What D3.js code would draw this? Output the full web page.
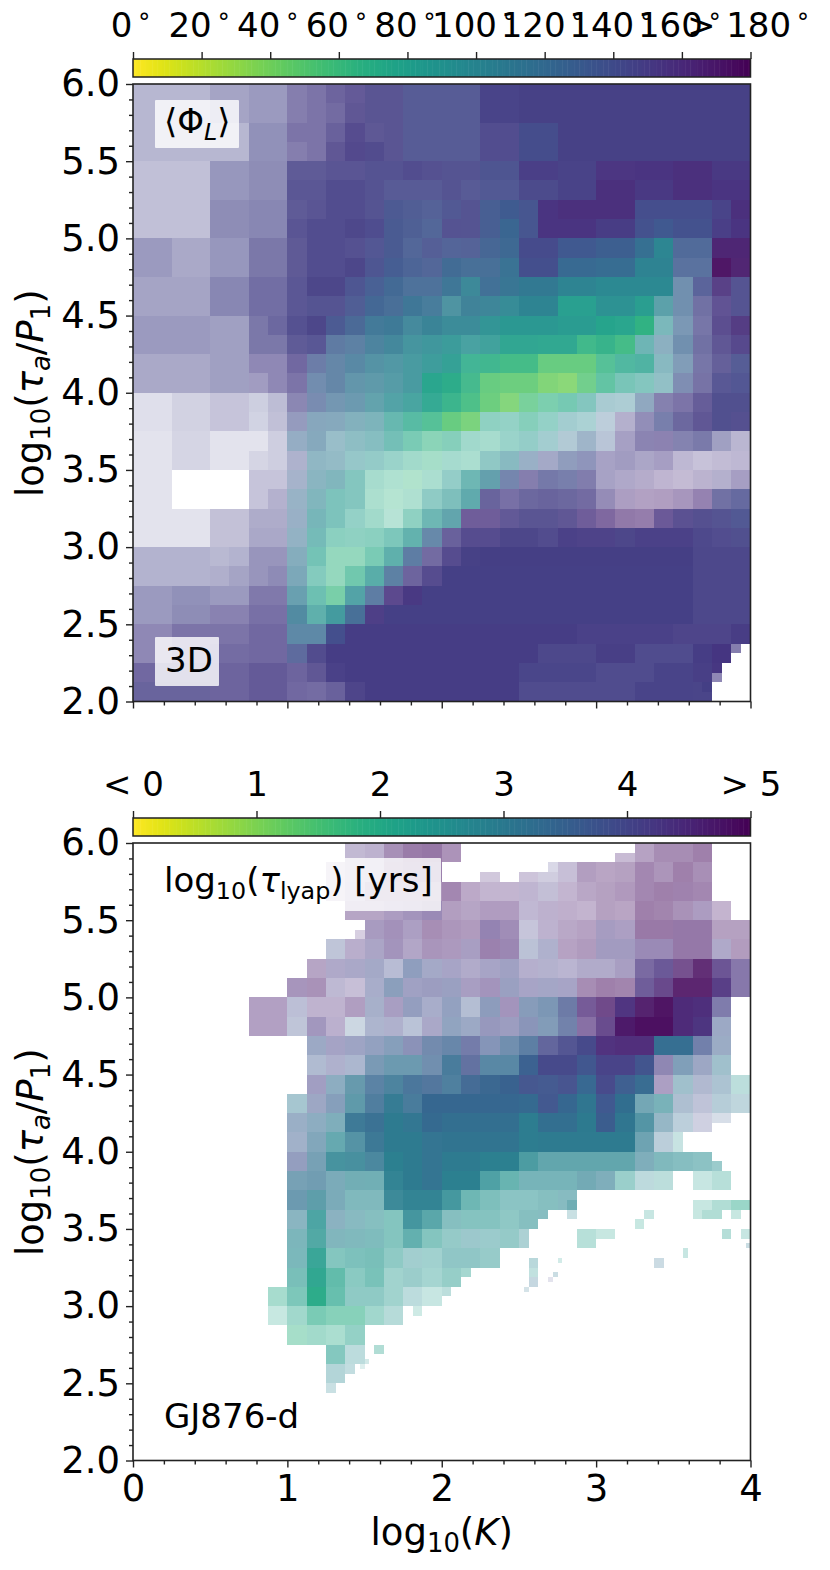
<!DOCTYPE html>
<html>
<head>
<meta charset="utf-8">
<script src="https://cdnjs.cloudflare.com/ajax/libs/d3/7.8.5/d3.min.js"></script>
<style>
  body { margin: 0; background: #fff; }
  text { font-family: "DejaVu Sans", sans-serif; fill: #000; }
</style>
</head>
<body>
<div id="chart"></div>
<script>
const _ = null;

// grid cell size in log10 units, rows run from log10(tau)=6 downwards
const cellSize = 0.125;

// top panel: mean angle in degrees
const phiValues = [
[145,145,145,145,145,145,145,145,150,150,150,150,148,148,143,143,143,143,147,147,148,148,148,148,148,148,148,148,148,148,148,148],
[145,145,145,145,145,145,145,145,150,150,150,150,148,148,143,143,143,143,147,147,148,148,148,148,148,148,148,148,148,148,148,148],
[145,145,145,145,145,145,145,145,150,150,150,150,148,148,143,143,143,143,147,147,142,142,148,148,148,148,148,148,148,148,148,148],
[145,145,145,145,145,145,145,145,150,150,150,150,148,148,143,143,143,143,147,147,142,142,148,148,148,148,148,148,148,148,148,148],
[145,145,145,145,145,145,145,145,147,147,147,147,146,146,147,147,145,145,142,142,150,150,148,148,155,155,155,155,158,158,152,152],
[145,145,145,145,145,145,145,145,147,147,147,147,146,144,144,144,145,144,142,142,145,145,148,148,158,158,152,152,158,158,155,155],
[145,145,145,145,145,145,145,145,147,147,147,147,145,139,139,139,142,145,134,132,138,155,158,158,158,158,141,141,141,141,147,158],
[145,145,145,145,145,145,145,145,147,147,147,148,146,137,137,135,146,145,134,125,138,155,155,155,150,150,139,133,139,139,150,155],
[145,145,145,145,145,145,147,147,148,147,147,147,143,137,135,140,136,138,130,125,143,143,133,133,130,130,118,100,132,132,165,165],
[145,145,145,145,145,145,147,147,148,147,147,148,141,133,133,135,125,125,125,117,140,140,122,122,120,120,103,103,132,132,175,168],
[145,145,145,145,145,145,147,147,147,148,148,141,133,126,126,126,118,105,122,115,110,110,102,102,98,98,98,98,125,140,158,145],
[145,145,145,145,145,145,147,147,147,145,145,138,128,126,118,118,105,110,107,100,102,102,82,82,93,93,83,100,125,145,152,145],
[145,145,145,145,145,145,147,147,147,148,138,130,118,115,107,107,102,102,93,88,88,88,85,85,78,78,66,95,125,145,152,158],
[145,145,145,145,145,145,147,147,147,146,130,125,115,108,100,97,92,92,88,80,80,78,78,65,68,62,92,115,125,145,150,152],
[145,145,145,145,145,145,150,150,150,135,125,118,108,104,97,92,85,72,68,62,62,50,50,50,65,75,80,102,125,145,148,142],
[145,145,145,145,145,145,150,150,150,128,125,112,108,102,97,78,72,65,50,48,48,42,40,52,68,80,85,100,135,148,145,143],
[145,145,145,145,148,148,142,145,148,132,122,115,102,95,90,78,68,60,48,42,55,65,72,85,105,105,125,148,150,150,145,145],
[145,145,145,145,148,148,142,145,140,120,118,108,100,85,75,65,50,45,75,78,72,80,95,95,120,150,148,140,148,150,145,148],
[145,145,145,145,145,145,145,145,125,118,108,100,95,85,72,65,72,75,72,80,85,95,115,125,130,150,150,152,145,145,145,150],
[145,145,145,145,145,145,145,145,142,110,108,95,88,80,72,65,75,72,90,100,125,140,135,140,150,150,150,152,152,152,152,152],
[145,145,_,_,_,_,148,148,132,108,100,85,72,68,62,72,85,90,105,135,150,143,140,148,150,152,155,158,158,155,150,152],
[145,145,_,_,_,_,148,148,120,100,85,85,70,65,70,85,90,95,148,150,148,148,148,150,152,160,165,165,162,160,145,143],
[145,145,145,145,148,148,147,147,125,95,85,80,72,70,75,90,100,155,155,150,148,148,150,155,160,165,165,155,150,148,145,142],
[145,145,145,145,148,148,147,147,118,90,75,75,75,80,90,125,150,150,150,148,148,148,150,150,150,148,150,150,150,147,147,145],
[145,145,145,145,145,145,147,147,112,80,65,65,72,90,128,150,150,148,148,148,148,148,148,148,148,148,148,148,148,147,147,147],
[145,145,145,145,145,145,147,147,112,78,65,70,90,125,150,150,147,147,147,147,147,147,147,147,147,147,147,147,147,147,147,147],
[145,145,145,145,145,145,150,150,108,80,62,95,128,155,152,147,147,147,147,147,147,147,147,147,147,147,147,147,147,147,147,147],
[145,145,145,145,150,150,150,150,112,90,95,125,152,147,147,147,147,147,147,147,147,147,147,147,147,147,147,147,147,147,147,147],
[150,150,150,150,150,150,150,150,120,120,140,149,149,149,149,149,149,149,149,149,149,149,149,149,149,149,149,149,149,149,149,150],
[150,150,150,150,150,150,150,150,138,148,149,149,149,149,149,149,149,149,149,149,149,147,147,147,149,149,147,147,147,149,152,_],
[150,150,150,150,150,150,150,150,150,150,149,149,149,149,149,149,149,149,149,149,147,147,147,147,147,147,147,147,147,149,_,_],
[148,148,148,148,150,150,150,150,150,150,150,149,149,149,149,149,149,149,149,149,147,147,147,147,147,147,147,147,147,148,_,_]
];

// top panel: opacity of each cell in percent
const phiOpacity = [
[38,38,38,38,48,48,53,53,65,70,78,83,88,88,88,88,88,88,97,97,98,98,98,98,98,98,98,98,98,98,98,98],
[38,38,38,38,48,48,53,53,65,70,75,85,88,88,88,88,88,88,97,97,98,98,98,98,98,98,98,98,98,98,98,98],
[38,38,38,38,38,38,58,58,70,70,80,90,86,88,88,88,88,88,92,92,97,97,98,98,98,98,98,98,98,98,98,98],
[38,38,38,38,38,38,58,58,65,70,85,92,92,88,88,88,88,88,92,92,97,97,98,98,98,98,98,98,98,98,98,98],
[33,33,33,33,55,55,60,60,85,85,88,88,90,90,92,90,90,90,92,92,97,97,97,97,97,97,98,98,98,98,98,98],
[33,33,33,33,55,55,60,60,87,87,92,92,90,88,88,88,90,88,90,90,95,95,97,97,98,98,98,98,98,98,98,98],
[33,33,33,33,60,60,63,63,85,88,92,92,90,92,90,88,90,90,93,97,95,98,98,98,98,98,97,97,97,97,97,98],
[33,33,33,33,60,60,63,63,88,92,92,94,93,93,90,88,90,90,93,97,95,98,98,98,98,98,97,97,97,97,97,98],
[53,53,45,45,55,55,70,70,85,92,92,90,90,93,88,88,88,88,92,95,97,97,97,97,97,97,97,97,88,88,97,97],
[53,53,45,45,55,55,70,70,85,92,92,95,92,94,90,88,93,90,90,95,97,97,97,97,97,97,97,97,83,83,95,95],
[48,48,48,48,63,63,75,75,87,95,95,92,92,93,88,88,92,90,92,95,97,97,97,97,97,97,97,97,70,85,90,90],
[48,48,48,48,63,63,75,75,87,90,90,90,93,90,92,88,82,90,90,92,97,97,95,95,95,95,95,75,70,75,85,90],
[53,53,53,53,50,50,70,78,90,95,92,90,90,92,87,92,90,90,92,95,95,95,95,95,97,95,97,60,65,72,88,92],
[53,53,53,53,50,50,70,70,85,88,80,80,85,88,85,87,88,82,85,92,92,92,92,90,92,90,65,55,70,75,85,90],
[45,45,45,45,50,50,60,60,76,75,76,80,80,80,83,87,90,85,88,90,90,85,85,85,80,78,78,55,62,72,82,88],
[45,45,45,45,50,50,50,60,70,70,76,74,75,78,83,95,95,88,85,85,85,82,80,78,72,60,55,50,65,72,88,90],
[17,17,24,24,30,30,26,35,62,68,68,70,72,78,82,90,90,88,85,80,70,62,62,55,40,38,55,65,70,82,92,92],
[17,17,24,24,30,30,24,33,55,58,58,58,60,68,75,80,85,82,50,48,55,48,42,38,32,40,58,70,78,85,92,90],
[15,15,22,22,15,15,15,26,52,58,48,52,55,62,60,55,55,42,40,45,48,42,37,47,35,48,62,62,65,70,50,37],
[15,15,22,22,15,15,22,26,42,52,50,48,48,45,42,42,40,38,50,55,50,47,57,58,47,50,45,48,35,30,33,35],
[15,15,_,_,_,_,30,30,45,55,58,55,40,37,38,38,48,65,72,70,65,72,70,67,47,43,40,35,32,37,40,48],
[15,15,_,_,_,_,30,40,50,58,58,55,38,35,37,50,58,72,80,72,78,80,78,75,57,45,42,43,48,58,75,80],
[15,15,15,15,32,32,43,43,50,62,58,48,42,33,50,65,72,78,78,84,88,88,85,78,70,60,58,80,88,90,90,90],
[15,15,15,15,32,32,45,45,52,62,52,50,52,58,70,75,80,90,90,95,95,92,96,95,95,95,96,96,96,94,92,92],
[40,40,40,40,37,40,55,55,58,62,50,50,60,72,80,75,90,98,99,99,99,99,99,99,99,99,99,99,99,95,95,95],
[40,40,40,40,42,48,55,60,62,55,50,65,75,80,78,90,99,99,99,99,99,99,99,99,99,99,99,99,99,95,95,95],
[53,53,58,58,53,53,68,68,70,65,65,78,80,88,98,99,99,99,99,99,99,99,99,99,99,99,99,99,99,95,95,95],
[53,53,60,60,63,63,72,72,82,72,85,90,95,99,99,99,99,99,99,99,99,99,99,99,99,99,99,99,99,95,95,95],
[60,60,70,70,70,70,76,76,78,78,97,99,99,99,99,99,99,99,99,99,99,99,99,97,97,97,97,97,95,95,95,98],
[60,60,70,70,74,74,76,76,83,92,99,99,99,99,99,99,99,99,99,99,99,95,95,95,98,98,93,93,93,99,100,_],
[76,76,76,76,78,78,83,83,78,85,97,99,99,99,99,99,99,99,99,99,96,96,96,96,93,93,93,97,97,98,_,_],
[80,80,80,80,78,78,83,83,76,74,80,95,99,99,99,99,99,99,99,99,93,93,93,93,93,93,97,97,97,96,_,_]
];

// smaller cells near the missing corner of the top panel: left, upper edge, width, height, value, opacity
const phiFineX = [3.875, 3.75, 3.75, 3.6875];
const phiFineY = [2.375, 2.25, 2.1875, 2.125];
const phiFineW = [0.0625, 0.0625, 0.0625, 0.0625];
const phiFineH = [0.0625, 0.0625, 0.0625, 0.0625];
const phiFineV = [150, 152, 150, 148];
const phiFineA = [65, 99, 60, 75];

// bottom panel: log10 of the Lyapunov time
const lyapValues = [
[_,_,_,_,_,_,_,_,_,_,_,4.4,4.4,4.7,4.8,4.8,4.8,_,_,_,_,_,_,_,_,_,4.7,4.8,4.8,4.85,_,_],
[_,_,_,_,_,_,_,_,_,_,4.5,4.4,4.4,4.7,4.7,4.7,_,_,_,_,_,_,4.4,4.7,4.75,4.75,4.8,4.75,4.85,4.8,_,_],
[_,_,_,_,_,_,_,_,_,_,4.5,4.5,4.7,4.7,4.7,4.7,4.8,4.7,4.6,4.6,4.4,4.2,4.6,4.7,4.75,4.75,4.8,4.85,4.8,4.8,_,_],
[_,_,_,_,_,_,_,_,_,_,_,4.6,4.6,4.5,4.4,4.4,4.7,4.6,4.65,4.65,4.3,4.45,4.65,4.65,4.75,4.75,4.85,4.85,4.7,4.5,4.7,_],
[_,_,_,_,_,_,_,_,_,_,_,_,4.4,4.5,4.4,4.75,4.7,4.7,4.4,4.5,4.1,4.4,4.65,4.7,4.3,4.4,4.85,4.85,4.7,4.7,4.75,4.75],
[_,_,_,_,_,_,_,_,_,_,3.8,4.4,4.2,4.4,4.4,4.6,4.6,4.3,4.65,4.5,3.8,4,4.7,4.7,4.2,4.2,4.4,4.4,4.7,4.7,4.2,4.75],
[_,_,_,_,_,_,_,_,_,4.6,4.2,4.1,3.9,3.9,3.7,3.9,4.1,4.2,4.1,4,4.2,4.1,4.2,4.2,4.2,4.3,4.3,4.3,4.7,4.85,4.4,4.3],
[_,_,_,_,_,_,_,_,4.55,4.7,4.2,4.4,3.9,3.6,4,4,3.9,4.3,4.4,3.9,4.1,4,4.1,4.8,4.85,4.85,4.3,4.55,4.9,4.9,4.4,4.3],
[_,_,_,_,_,_,4.6,4.6,3.9,4.5,4.5,4.6,3.8,4.3,3.8,3.9,3.7,3.7,3.7,4.4,3.6,3.5,3.8,4.5,4.7,4.4,4.8,4.9,4.5,4.45,4.1,_],
[_,_,_,_,_,_,4.6,4.6,3.8,4.3,4.4,3.5,3.8,4,3.7,4.1,3.6,3.7,4,4,3.8,3.5,3.75,4.5,4.5,4.75,4.9,4.9,4.5,4.35,3.7,_],
[_,_,_,_,_,_,_,_,_,3.7,4.1,3.9,3.7,3.5,3.9,3.6,3.5,3.9,3.7,3.5,3.5,4,4,4,4.45,4.5,4.5,3.3,3.3,3.8,3.6,_],
[_,_,_,_,_,_,_,_,_,3.7,4,3.7,3.4,3.2,3.2,3.5,3.3,3.8,3.3,3.3,3.55,4,4,3.75,4.1,4.1,3.8,4.2,3.4,3.8,3.1,_],
[_,_,_,_,_,_,_,_,_,4.1,3.3,3.1,3.4,3.2,3.4,3.5,3.3,3.5,3.45,3.5,3.8,3.75,3.85,3.4,4,3.6,3.35,4.4,3.1,3.8,3.3,2.5],
[_,_,_,_,_,_,_,_,3,3.8,3.5,3,3.35,3.05,3.3,3.4,3.4,3.4,3.4,3.4,3.35,3.75,3.4,3.1,3.7,3.25,3,2.8,3.5,3.9,3.2,3],
[_,_,_,_,_,_,_,_,3.5,3.3,3,3.2,3.3,3,3.1,3.35,3.25,3.25,3.25,3.25,2.95,3.25,3.25,3,3.6,3.1,2.95,3.2,3.3,4,_,_],
[_,_,_,_,_,_,_,_,3.6,3.25,2.75,3,3.2,3,3,3.15,3.15,3.15,3.15,3.15,2.95,3,3,3,3,3,3,3.3,_,_,_,_],
[_,_,_,_,_,_,_,_,3.8,3.2,2.85,2.9,3.1,2.9,3,3.15,3,3,2.9,2.9,2.7,2.75,2.75,2.75,2.75,2.75,3,2.7,2.65,2.6,_,_],
[_,_,_,_,_,_,_,_,3.2,3.2,3,2.8,2.75,2.9,3,3.15,2.9,2.9,2.65,2.5,2.7,2.7,2.7,2.9,3,2.4,2.7,2.5,_,2.3,2.3,_],
[_,_,_,_,_,_,_,_,3.2,2.9,3,2.7,2.7,2.9,2.9,2.9,2.7,2.5,2.5,2.55,2.55,2.6,2.75,_,_,_,_,_,_,_,_,_],
[_,_,_,_,_,_,_,_,3,2.55,3.1,2.8,2.6,2.4,2.75,2.65,2.6,2.5,2.45,2.45,2.6,_,_,_,_,_,_,_,_,_,_,_],
[_,_,_,_,_,_,_,_,2.7,2.5,2.8,2.7,2.6,2.4,2.55,2.4,2.5,2.7,2.6,2.5,_,_,_,2.2,_,_,_,_,_,_,_,_],
[_,_,_,_,_,_,_,_,2.65,2.3,2.35,2.4,2.4,2.4,2.6,2.45,2.55,2.55,2.5,_,_,_,_,_,_,_,_,_,_,_,_,_],
[_,_,_,_,_,_,_,_,2.4,2.2,2.2,2.3,2.3,2.35,2.5,2.4,2.35,_,_,_,_,_,_,_,_,_,_,_,_,_,_,_],
[_,_,_,_,_,_,_,2,2.2,2,2.15,2.4,2.4,2.4,2.6,2.3,_,_,_,_,_,_,_,_,_,_,_,_,_,_,_,_],
[_,_,_,_,_,_,_,2.1,2.1,2,1.95,1.95,2.2,2.5,_,_,_,_,_,_,_,_,_,_,_,_,_,_,_,_,_,_],
[_,_,_,_,_,_,_,_,1.8,2,2,2.2,_,_,_,_,_,_,_,_,_,_,_,_,_,_,_,_,_,_,_,_],
[_,_,_,_,_,_,_,_,_,_,2.3,2.6,_,_,_,_,_,_,_,_,_,_,_,_,_,_,_,_,_,_,_,_],
[_,_,_,_,_,_,_,_,_,_,2.7,_,_,_,_,_,_,_,_,_,_,_,_,_,_,_,_,_,_,_,_,_]
];

// bottom panel: opacity of each cell in percent
const lyapOpacity = [
[_,_,_,_,_,_,_,_,_,_,_,33,36,48,55,57,45,_,_,_,_,_,_,_,_,_,40,48,48,52,_,_],
[_,_,_,_,_,_,_,_,_,_,25,33,35,50,55,55,_,_,_,_,_,_,30,42,38,40,50,45,52,47,_,_],
[_,_,_,_,_,_,_,_,_,_,25,35,45,45,45,45,50,37,33,33,35,32,33,38,40,43,50,52,52,50,_,_],
[_,_,_,_,_,_,_,_,_,_,_,40,40,45,50,55,42,40,43,43,34,36,35,33,40,38,52,50,47,45,32,_],
[_,_,_,_,_,_,_,_,_,_,_,_,47,50,45,48,45,43,58,52,30,36,38,40,48,45,55,55,58,58,40,40],
[_,_,_,_,_,_,_,_,_,_,33,38,45,50,42,47,45,47,55,55,35,42,40,43,50,50,55,55,58,58,43,42],
[_,_,_,_,_,_,_,_,_,40,43,45,47,37,57,47,47,42,47,50,40,40,37,42,42,47,72,80,75,85,80,65],
[_,_,_,_,_,_,_,_,48,47,35,30,45,58,50,52,52,47,50,52,47,48,47,48,52,50,78,82,88,88,90,65],
[_,_,_,_,_,_,42,42,35,35,35,43,45,47,55,45,55,38,58,50,60,65,75,75,78,95,92,95,97,97,68,_],
[_,_,_,_,_,_,42,42,33,50,37,25,42,42,35,45,55,50,55,52,60,62,72,65,82,97,97,97,97,97,50,_],
[_,_,_,_,_,_,_,_,_,50,48,50,55,60,60,70,75,72,62,70,80,82,90,97,95,95,95,97,97,72,50,_],
[_,_,_,_,_,_,_,_,_,40,42,42,65,70,70,70,88,80,80,80,97,97,97,97,97,97,97,60,62,50,45,_],
[_,_,_,_,_,_,_,_,_,50,55,72,80,85,88,85,85,92,96,98,95,95,95,97,96,96,96,45,45,40,40,30],
[_,_,_,_,_,_,_,_,42,50,60,75,85,95,88,98,98,98,98,98,98,96,98,98,97,99,65,62,40,33,35,30],
[_,_,_,_,_,_,_,_,50,55,60,92,95,98,97,98,98,98,98,98,98,98,98,99,98,98,80,50,32,25,_,_],
[_,_,_,_,_,_,_,_,47,60,70,80,93,98,98,97,98,98,98,98,98,98,98,98,98,98,68,33,_,_,_,_],
[_,_,_,_,_,_,_,_,55,65,85,85,85,98,98,97,98,98,98,98,82,72,72,72,72,72,60,58,55,52,_,_],
[_,_,_,_,_,_,_,_,65,68,62,65,65,95,98,97,98,98,80,68,62,62,62,65,60,45,30,30,_,25,32,_],
[_,_,_,_,_,_,_,_,70,75,62,58,58,90,95,95,85,65,58,52,52,55,55,_,_,_,_,_,_,_,_,_],
[_,_,_,_,_,_,_,_,55,80,55,55,55,55,85,75,55,55,55,50,55,_,_,_,_,_,_,_,_,_,_,_],
[_,_,_,_,_,_,_,_,60,78,58,58,58,55,70,55,48,45,45,48,_,_,_,32,_,_,_,_,_,_,_,_],
[_,_,_,_,_,_,_,_,60,88,55,58,60,50,42,42,50,50,47,_,_,_,_,_,_,_,_,_,_,_,_,_],
[_,_,_,_,_,_,_,_,60,92,70,52,60,42,45,40,47,_,_,_,_,_,_,_,_,_,_,_,_,_,_,_],
[_,_,_,_,_,_,_,40,58,95,68,50,50,42,30,25,_,_,_,_,_,_,_,_,_,_,_,_,_,_,_,_],
[_,_,_,_,_,_,_,25,42,60,55,55,42,33,_,_,_,_,_,_,_,_,_,_,_,_,_,_,_,_,_,_],
[_,_,_,_,_,_,_,_,42,42,38,48,_,_,_,_,_,_,_,_,_,_,_,_,_,_,_,_,_,_,_,_],
[_,_,_,_,_,_,_,_,_,_,55,30,_,_,_,_,_,_,_,_,_,_,_,_,_,_,_,_,_,_,_,_],
[_,_,_,_,_,_,_,_,_,_,35,_,_,_,_,_,_,_,_,_,_,_,_,_,_,_,_,_,_,_,_,_]
];

// scattered smaller cells of the bottom panel
const lyapFineX = [3.125,2.25,2.5,2.625,2.6875,1.4375,3.625,3.75,3.875,3.625,3.6875,3.875,2.625,2.8125,2.5,2.125,2,1.8125,1.5625,1.375,1.5,1.46875,1.25,3.25,3.3125,3,3.8125,3.9375,3.96875,3.5625,3.375,2.5625,2.5625,2.5625,2.53125,2.6875,2.71875,2.75,3.5,3.75,3.75];
const lyapFineY = [5.9375,5.8125,5.8125,5.8125,5.875,5.4375,3.6875,3.6875,3.6875,3.625,3.625,3.625,3.625,3.6875,3.5,3.25,3.125,3,2.75,2.625,2.65625,2.625,2.5,3.5625,3.625,3.5,3.5,3.5,3.40625,3.375,3.3125,3.3125,3.25,3.1875,3.125,3.1875,3.21875,3.3125,4.125,4.25,3.9375];
const lyapFineW = [0.125,0.125,0.125,0.125,0.0625,0.0625,0.125,0.125,0.125,0.0625,0.125,0.0625,0.0625,0.0625,0.0625,0.0625,0.0625,0.0625,0.0625,0.0625,0.03125,0.03125,0.0625,0.0625,0.0625,0.125,0.0625,0.0625,0.03125,0.03125,0.0625,0.0625,0.0625,0.0625,0.03125,0.03125,0.03125,0.03125,0.0625,0.125,0.0625];
const lyapFineH = [0.0625,0.0625,0.0625,0.0625,0.0625,0.0625,0.0625,0.0625,0.0625,0.0625,0.0625,0.0625,0.0625,0.125,0.125,0.0625,0.0625,0.0625,0.0625,0.0625,0.03125,0.03125,0.0625,0.0625,0.0625,0.0625,0.0625,0.0625,0.03125,0.0625,0.0625,0.0625,0.0625,0.0625,0.03125,0.03125,0.03125,0.03125,0.125,0.0625,0.0625];
const lyapFineV = [4.6,4.5,4.5,4.2,4.1,4.5,2.2,2.2,2.1,2.2,2.2,2.2,2.7,2.8,2.7,2.3,2.5,2.2,2.2,2.7,2.5,2.5,2.8,2.2,2.3,2.2,2.3,2.3,3,2.3,3.2,2.7,2.4,3.2,3.1,4,3,2.3,2.5,3.6,2.6];
const lyapFineA = [30,25,27,25,20,22,25,35,45,25,35,25,55,25,38,40,30,22,35,28,20,15,25,25,25,25,33,25,25,25,25,32,28,28,20,15,25,20,25,20,45];

// axes
const xMajor = [0, 1, 2, 3, 4];
const xMinor = [0.2, 0.4, 0.6, 0.8, 1.2, 1.4, 1.6, 1.8, 2.2, 2.4, 2.6, 2.8, 3.2, 3.4, 3.6, 3.8];
const yMajor = [2, 2.5, 3, 3.5, 4, 4.5, 5, 5.5, 6];
const yMinor = [2.1, 2.2, 2.3, 2.4, 2.6, 2.7, 2.8, 2.9, 3.1, 3.2, 3.3, 3.4, 3.6, 3.7, 3.8, 3.9, 4.1, 4.2, 4.3, 4.4, 4.6, 4.7, 4.8, 4.9, 5.1, 5.2, 5.3, 5.4, 5.6, 5.7, 5.8, 5.9];
const phiTicks = [0, 20, 40, 60, 80, 100, 120, 140, 160, 180];
const lyapTicks = [0, 1, 2, 3, 4, 5];

var margin = { left: 133, panel1: 84, panel2: 843 },
    size = 617.5,
    barHeight = 18,
    barGap = 7,
    tickFont = 37,
    barFont = 34,
    labelFont = 34;

var svg = d3.select("#chart").append("svg")
    .attr("width", 830)
    .attr("height", 1570)
    .style("display", "block");

var x = d3.scaleLinear().domain([0, 4]).range([0, size]);
var y = d3.scaleLinear().domain([2, 6]).range([size, 0]);

// mathtext style label built from pieces, sub pieces drop below the baseline
function mathText(sel, parts, fontSize) {
    var shift = 0;
    sel.style("font-size", fontSize + "px");
    parts.forEach(function (p) {
        var target = p.sub ? fontSize * 0.2 : 0;
        var ts = sel.append("tspan")
            .attr("dy", target - shift)
            .text(p.t);
        if (p.sub) ts.style("font-size", (fontSize * 0.7) + "px");
        if (p.it) ts.style("font-style", "italic");
        shift = target;
    });
}

function gridCells(values, opacity, fine) {
    var cells = [];
    values.forEach(function (row, r) {
        row.forEach(function (v, c) {
            if (v !== null) cells.push({ x: c * cellSize, y: 6 - r * cellSize, w: cellSize, h: cellSize, v: v, a: opacity[r][c] });
        });
    });
    fine.x.forEach(function (fx, i) {
        cells.push({ x: fx, y: fine.y[i], w: fine.w[i], h: fine.h[i], v: fine.v[i], a: fine.a[i] });
    });
    return cells;
}

function styleAxis(sel, fontSize) {
    sel.select(".domain").remove();
    sel.selectAll("line").attr("stroke", "#222").attr("stroke-width", 1.4);
    sel.selectAll("text").style("font-size", fontSize + "px").attr("fill", "#000");
}

function drawPanel(top, cells, domain, ticks, tickText, unit) {
    var color = d3.scaleSequential(function (t) { return d3.interpolateViridis(1 - t); }).domain(domain);

    var g = svg.append("g").attr("transform", "translate(" + margin.left + "," + top + ")");

    g.append("g").selectAll("rect")
        .data(cells)
        .enter().append("rect")
        .attr("x", function (d) { return x(d.x); })
        .attr("y", function (d) { return y(d.y); })
        .attr("width", function (d) { return x(d.x + d.w) - x(d.x); })
        .attr("height", function (d) { return y(d.y - d.h) - y(d.y); })
        .attr("fill", function (d) { return color(d.v); })
        .attr("fill-opacity", function (d) { return d.a / 100; })
        .attr("shape-rendering", "crispEdges");

    // colorbar above the panel
    var bar = g.append("g").attr("transform", "translate(0," + (-barGap - barHeight) + ")");
    var barScale = d3.scaleLinear().domain(domain).range([0, size]);
    var span = domain[1] - domain[0];
    bar.selectAll("rect")
        .data(d3.range(domain[0], domain[1], span / 256))
        .enter().append("rect")
        .attr("x", function (d) { return barScale(d); })
        .attr("width", size / 256 + 0.5)
        .attr("height", barHeight)
        .attr("fill", function (d) { return color(d + span / 512); });
    bar.append("rect")
        .attr("width", size)
        .attr("height", barHeight)
        .attr("fill", "none")
        .attr("stroke", "#222")
        .attr("stroke-width", 1.5);

    bar.append("g")
        .call(d3.axisTop(barScale).tickValues(ticks).tickSize(7).tickPadding(15).tickFormat(tickText))
        .call(styleAxis, barFont);

    // degree sign is smaller and raised, as in the mathtext original
    if (unit) {
        bar.selectAll(".tick text").each(function () {
            var t = d3.select(this);
            t.attr("dx", -3);
            t.append("tspan")
                .attr("dx", 6)
                .attr("dy", -6)
                .style("font-size", "24px")
                .text(unit);
        });
    }
    return g;
}

function drawAxes(g, showX) {
    g.append("g").attr("transform", "translate(0," + size + ")")
        .call(d3.axisBottom(x).tickValues(xMinor).tickSize(4).tickFormat(""))
        .call(styleAxis, tickFont);
    g.append("g").attr("transform", "translate(0," + size + ")")
        .call(d3.axisBottom(x).tickValues(xMajor).tickSize(7).tickPadding(7).tickFormat(showX ? d3.format("d") : ""))
        .call(styleAxis, tickFont);
    g.append("g")
        .call(d3.axisLeft(y).tickValues(yMinor).tickSize(4).tickFormat(""))
        .call(styleAxis, tickFont);
    g.append("g")
        .call(d3.axisLeft(y).tickValues(yMajor).tickSize(7).tickPadding(6).tickFormat(d3.format(".1f")))
        .call(styleAxis, tickFont);

    g.append("rect")
        .attr("width", size)
        .attr("height", size)
        .attr("fill", "none")
        .attr("stroke", "#222")
        .attr("stroke-width", 1.6);

    var ylab = g.append("text")
        .attr("transform", "translate(-90," + (size / 2 + 0.5) + ") rotate(-90)")
        .attr("text-anchor", "middle");
    mathText(ylab, [{ t: "log" }, { t: "10", sub: true }, { t: "(" }, { t: "τ", it: true }, { t: "a", it: true, sub: true }, { t: "/" }, { t: "P", it: true }, { t: "1", sub: true }, { t: ")" }], tickFont);
}

function boxLabel(g, box, pos, parts) {
    if (box) {
        g.append("rect")
            .attr("x", box[0])
            .attr("y", box[1])
            .attr("width", box[2])
            .attr("height", box[3])
            .attr("rx", 1)
            .attr("fill", "#fff")
            .attr("fill-opacity", 0.8);
    }
    var t = g.append("text")
        .attr("x", pos[0])
        .attr("y", pos[1]);
    mathText(t, parts, labelFont);
}

var degree = function (d) { return d === 180 ? "> 180" : d; };
var plain = function (d) { return d === 0 ? "< 0" : d === 5 ? "> 5" : d; };

var panel1 = drawPanel(margin.panel1,
    gridCells(phiValues, phiOpacity, { x: phiFineX, y: phiFineY, w: phiFineW, h: phiFineH, v: phiFineV, a: phiFineA }),
    [0, 180], phiTicks, degree, "°");
drawAxes(panel1, false);
boxLabel(panel1, [22, 16, 84, 48], [31, 49], [{ t: "⟨Φ" }, { t: "L", it: true, sub: true }, { t: "⟩" }]);
boxLabel(panel1, [22, 553, 64, 49], [32, 588], [{ t: "3D" }]);

var panel2 = drawPanel(margin.panel2,
    gridCells(lyapValues, lyapOpacity, { x: lyapFineX, y: lyapFineY, w: lyapFineW, h: lyapFineH, v: lyapFineV, a: lyapFineA }),
    [0, 5], lyapTicks, plain, null);
drawAxes(panel2, true);
boxLabel(panel2, [24, 15, 284, 53], [31, 49], [{ t: "log" }, { t: "10", sub: true }, { t: "(" }, { t: "τ", it: true }, { t: "lyap", sub: true }, { t: ") [yrs]" }]);
boxLabel(panel2, null, [31, 585], [{ t: "GJ876-d" }]);

var xlab = panel2.append("text")
    .attr("x", size / 2)
    .attr("y", size + 84)
    .attr("text-anchor", "middle");
mathText(xlab, [{ t: "log" }, { t: "10", sub: true }, { t: "(" }, { t: "K", it: true }, { t: ")" }], tickFont);
</script>
</body>
</html>
